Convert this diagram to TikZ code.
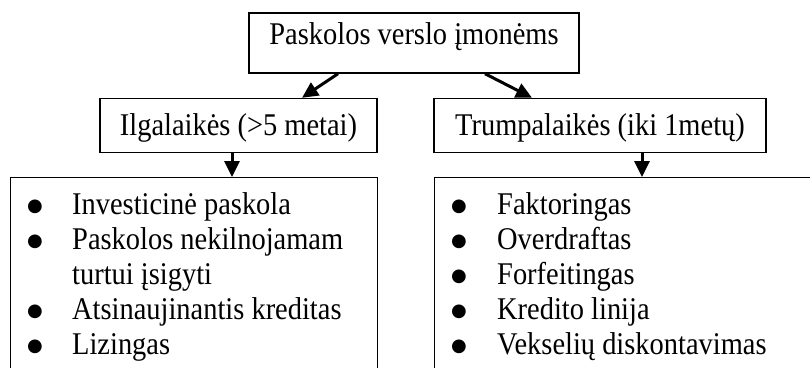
\documentclass[tikz,border=0pt]{standalone}
\usepackage{fontspec}
\setmainfont[FakeStretch=0.9]{Liberation Serif}
\newfontfamily\dotfont{DejaVu Sans}
\usetikzlibrary{arrows.meta}
\tikzset{
  box/.style={draw, line width=1.4pt, inner sep=0pt},
  arr/.style={line width=3pt, -{Triangle[length=16pt,width=15pt]}},
  item/.style={anchor=base west, inner sep=0pt},
  dot/.style={anchor=base, inner sep=0pt, font=\dotfont\fontsize{18}{18}\selectfont, yshift=3pt}
}
\begin{document}
\begin{tikzpicture}[x=1pt, y=-1pt, font=\fontsize{31.6}{36}\selectfont]
\useasboundingbox (0,0) rectangle (810,367);
\clip (0,0) rectangle (810,367);

\node[box, minimum width=330pt, text height=31pt, text depth=29pt] (top) at (414,43) {Paskolos verslo įmonėms};
\node[box, minimum width=277pt, text height=37pt, text depth=17pt] (ilg) at (238.5,125.5) {Ilgalaikės (>5 metai)};
\node[box, minimum width=332pt, text height=37pt, text depth=17pt] (trump) at (600,125.5) {Trumpalaikės (iki 1metų)};

\node[box, anchor=north west, minimum width=367pt, minimum height=250pt] (ilglist) at (10,177) {};
\node[box, anchor=north west, minimum width=420pt, minimum height=250pt] (trumplist) at (434,177) {};

\foreach \i/\itext in {0/Investicinė paskola,1/Paskolos nekilnojamam,2/turtui įsigyti,3/Atsinaujinantis kreditas,4/Lizingas}
{
    \node[item] (ilgitem\i) at (72,{214.5+35*\i}) {\itext};
}
\foreach \i in {0,1,3,4}
{
    \node[dot] (ilgdot\i) at (35,{214.5+35*\i}) {●};
}

\foreach \i/\itext in {0/Faktoringas,1/Overdraftas,2/Forfeitingas,3/Kredito linija,4/Vekselių diskontavimas}
{
    \node[item] (trumpitem\i) at (497,{214.5+35*\i}) {\itext};
    \node[dot] (trumpdot\i) at (459,{214.5+35*\i}) {●};
}

\draw[arr] ([xshift=-76pt]top.south) -- ([xshift=63.5pt]ilg.north);
\draw[arr] ([xshift=71pt]top.south) -- ([xshift=-68pt]trump.north);
\draw[arr] ([xshift=-6.5pt]ilg.south) -- ([xshift=-6.5pt]ilg.south |- ilglist.north);
\draw[arr] ([xshift=42pt]trump.south) -- ([xshift=42pt]trump.south |- trumplist.north);
\end{tikzpicture}
\end{document}
